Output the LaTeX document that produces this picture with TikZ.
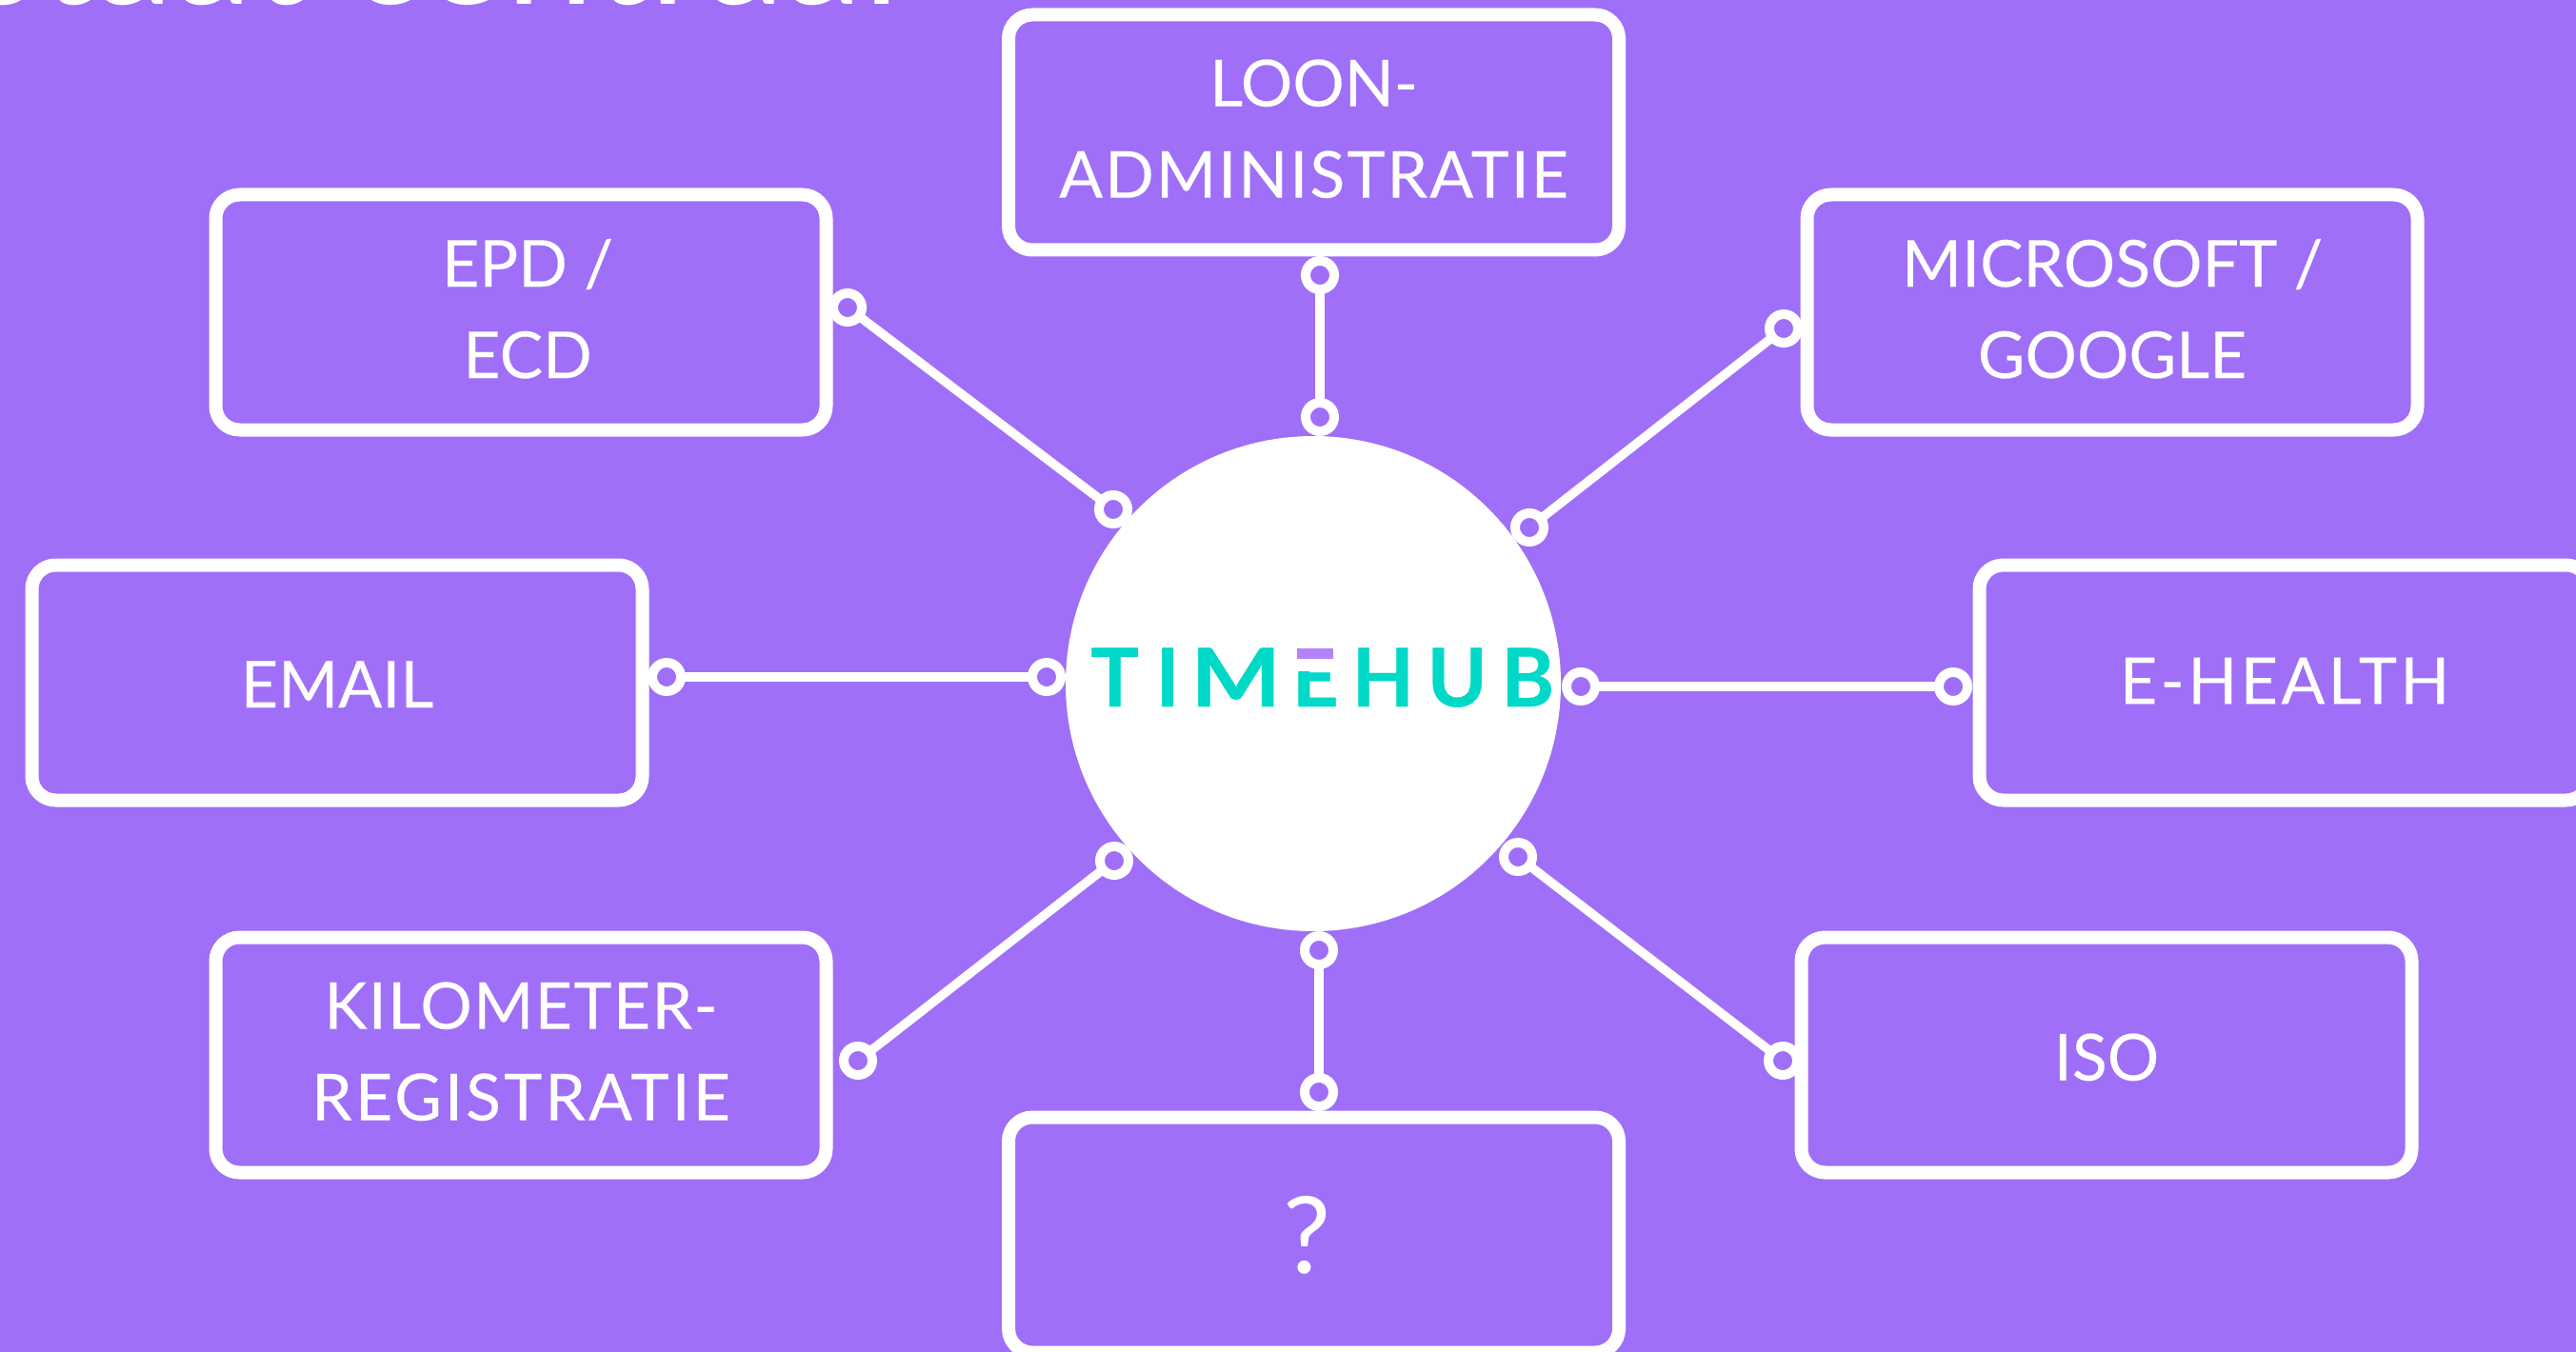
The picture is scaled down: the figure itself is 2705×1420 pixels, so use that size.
\documentclass[tikz,border=0pt]{standalone}
\usepackage{fontspec}
\setmainfont{Lato}
\definecolor{paars}{HTML}{9F6FF8}
\definecolor{lichtpaars}{HTML}{B682F8}
\definecolor{turkoois}{HTML}{00D9C8}
\newcommand{\ruim}[2]{{\addfontfeature{LetterSpace=#1}#2}}
\newcommand{\lt}[1]{\makebox[0pt]{#1}}
\tikzset{
  blok/.style={draw=white, fill=paars, text=white, line width=14pt, rounded corners=25pt, outer sep=0pt, inner sep=0pt,
    minimum width=641pt, minimum height=247pt, align=center, font=\fontsize{68}{96}\selectfont\addfontfeature{FakeBold=0.2}},
  ring/.style={draw=white, fill=paars, circle, line width=10pt, inner sep=0pt, outer sep=0pt, minimum size=30pt},
  link/.style={draw=white, line width=9.5pt}
}
\begin{document}
\begin{tikzpicture}[x=1pt,y=-1pt]
        \useasboundingbox (0,0) rectangle (2705,1420);
        \clip (0,0) rectangle (2705,1420);
        \fill[paars] (0,0) rectangle (2705,1420);
        \node[anchor=base west, text=white, inner sep=0pt, font=\fontsize{166}{166}\selectfont] (titel) at (-32,5) {staat centraal};

        \node[circle, fill=white, inner sep=0pt, outer sep=0pt, minimum size=520pt] (hub) at (1379,718) {};
        \node[anchor=base west, text=turkoois, inner sep=0pt, font=\fontsize{85}{85}\selectfont\bfseries\addfontfeature{FakeBold=0.5}] (logo) at (1170.5,742)
          {\lt{T}\hspace{55.5pt}\lt{I}\hspace{71.5pt}\lt{\scalebox{1.18}[1]{M}}\hspace{83.5pt}\lt{E}\hspace{71pt}\lt{H}\hspace{78pt}\lt{U}\hspace{74pt}\lt{B}};
        \fill[white] (1356,678) rectangle (1406,705);
        \fill[lichtpaars] (1362,681) rectangle (1400,692);

        \node[blok, text depth=8pt] (loon) at (1379.5,139) {LOON-\\\ruim{3}{ADMINISTRATIE}};
        \node[blok, text depth=8pt] (epd) at (547,328) {\hspace*{14pt}EPD /\\\hspace*{14pt}ECD};
        \node[blok, text depth=8pt] (ms) at (2218,328) {MICROSOFT /\\GOOGLE};
        \node[blok, text height=52pt] (email) at (354,717) {EMAIL};
        \node[blok, text depth=4pt] (ehealth) at (2399,717) {\ruim{5}{E-HEALTH}};
        \node[blok, text depth=8pt] (km) at (547,1108) {\ruim{2}{KILOMETER-}\\\ruim{4.5}{REGISTRATIE}};
        \node[blok, font=\fontsize{112}{112}\selectfont] (vraag) at (1379.5,1297) {?\hspace*{14pt}};
        \node[blok, text height=54pt] (iso) at (2212,1108) {ISO};

        \node[ring] (r1) at (890,323) {};
        \node[ring] (r2) at (1169,535) {};
        \node[ring] (r3) at (1386,289) {};
        \node[ring] (r4) at (1386,438) {};
        \node[ring] (r5) at (1873,345) {};
        \node[ring] (r6) at (1606,554) {};
        \node[ring] (r7) at (700,711) {};
        \node[ring] (r8) at (1099,711) {};
        \node[ring] (r9) at (1660,721) {};
        \node[ring] (r10) at (2051,721) {};
        \node[ring] (r11) at (901,1114) {};
        \node[ring] (r12) at (1170,904) {};
        \node[ring] (r13) at (1385,998) {};
        \node[ring] (r14) at (1385,1147) {};
        \node[ring] (r15) at (1594,900) {};
        \node[ring] (r16) at (1872,1114) {};

        \foreach \from/\to in {r1/r2, r3/r4, r5/r6, r7/r8, r9/r10, r11/r12, r13/r14, r15/r16}
          \draw[link] (\from) -- (\to);
      \end{tikzpicture}
\end{document}
